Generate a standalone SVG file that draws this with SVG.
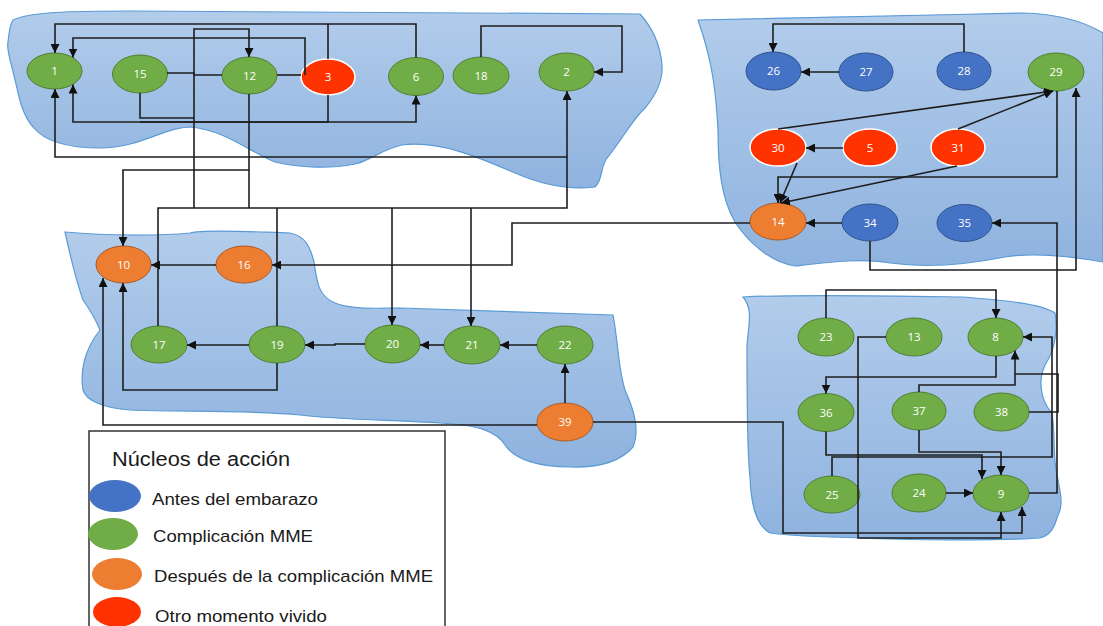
<svg xmlns="http://www.w3.org/2000/svg" width="1103" height="626" viewBox="0 0 1103 626">
  <defs>
    <linearGradient id="blobFill" x1="0" y1="0" x2="0" y2="1">
      <stop offset="0" stop-color="#b2cceb"/>
      <stop offset="1" stop-color="#8fb3df"/>
    </linearGradient>
    <marker id="arr" viewBox="0 0 10 10" refX="10" refY="5" markerWidth="9" markerHeight="9" markerUnits="userSpaceOnUse" orient="auto">
      <path d="M0,0 L10,5 L0,10 z" fill="#111"/>
    </marker>
    <style>
      .blob { fill: url(#blobFill); stroke: #5b9bd5; stroke-width: 1.2; }
      .n ellipse { stroke-width: 1; }
      .g ellipse { fill: #70ad47; stroke: #507e32; }
      .b ellipse { fill: #4472c4; stroke: #2f528f; }
      .o ellipse { fill: #ed7d31; stroke: #ae5a21; }
      .r ellipse { fill: #ff3300; stroke: #ffffff; stroke-width: 1.5; }
      .n text { fill: #ffffff; font-family: "Open Sans", "Liberation Sans", sans-serif; font-size: 11.5px; text-anchor: middle; }
      .c path { fill: none; stroke: #1e1e1e; stroke-width: 1.6; }
      .c .a { marker-end: url(#arr); }
      .lg text { font-family: "Liberation Sans", Arial, sans-serif; fill: #1a1a1a; }
    </style>
  </defs>

  <rect width="1103" height="626" fill="#ffffff"/>

  <!-- stage areas -->
  <g id="areas">
    <path class="blob" d="M13,20 C30,12 70,11 130,11 L640,14 C650,25 660,42 662,65 C663,82 656,95 645,108 C632,120 622,140 607,158 C600,168 603,180 595,187 C570,190 545,186 515,173 C480,158 440,140 402,145 C380,150 372,160 355,164 C330,169 300,168 275,162 C250,152 225,130 190,127 C165,127 140,148 100,148 C70,148 45,142 33,127 C20,112 18,90 15,80 C12,65 6,50 8,42 C9,32 10,24 13,20 Z"/>
    <path class="blob" d="M698,20 C760,18 900,16 1023,13 C1060,14 1085,22 1103,33 L1103,262 C1070,256 1035,252 1005,257 C965,265 925,268 890,263 C860,258 830,262 795,266 C770,262 748,242 735,222 C722,200 718,170 718,130 C716,90 712,60 698,20 Z"/>
    <path class="blob" d="M65,232 C110,236 160,236 190,233 C205,229 255,232 290,233 C305,236 310,246 314,262 C317,282 318,296 335,303 C352,310 380,308 400,308 L613,315 C618,340 618,368 625,390 C634,410 640,430 633,447 C620,462 600,468 570,467 C540,467 515,460 505,445 C497,432 480,425 440,423 C400,420 340,420 300,415 C250,410 180,412 130,410 C102,408 86,400 83,390 C80,372 84,350 100,330 C96,320 90,310 83,300 C76,280 70,255 65,232 Z"/>
    <path class="blob" d="M743,297 C800,294 900,296 963,297 C1000,300 1040,303 1055,313 C1058,330 1055,350 1045,365 C1038,380 1040,400 1052,413 C1055,430 1053,450 1056,470 C1060,490 1064,505 1058,515 C1055,525 1052,535 1040,538 C1000,541 900,540 863,538 C820,537 790,536 770,533 C756,525 751,505 750,477 C747,450 747,400 747,347 C748,325 754,310 743,297 Z"/>
  </g>

  <!-- nodes -->
  <g id="node-1" class="n g"><ellipse cx="54.5" cy="71" rx="27.5" ry="18"/><text x="54.5" y="75">1</text></g>
  <g id="node-15" class="n g"><ellipse cx="140" cy="74" rx="27.5" ry="19"/><text x="140" y="78">15</text></g>
  <g id="node-12" class="n g"><ellipse cx="249.5" cy="75.5" rx="27.5" ry="18.5"/><text x="249.5" y="79.5">12</text></g>
  <g id="node-3" class="n r"><ellipse cx="328" cy="77" rx="27" ry="18"/><text x="328" y="81">3</text></g>
  <g id="node-6" class="n g"><ellipse cx="416" cy="76.5" rx="27.5" ry="19"/><text x="416" y="80.5">6</text></g>
  <g id="node-18" class="n g"><ellipse cx="481" cy="75.5" rx="28" ry="18.5"/><text x="481" y="79.5">18</text></g>
  <g id="node-2" class="n g"><ellipse cx="566.5" cy="72" rx="27.5" ry="19"/><text x="566.5" y="76">2</text></g>

  <g id="node-26" class="n b"><ellipse cx="773.5" cy="71" rx="27.5" ry="19"/><text x="773.5" y="75">26</text></g>
  <g id="node-27" class="n b"><ellipse cx="866" cy="72" rx="27" ry="19"/><text x="866" y="76">27</text></g>
  <g id="node-28" class="n b"><ellipse cx="964" cy="71" rx="27" ry="19"/><text x="964" y="75">28</text></g>
  <g id="node-29" class="n g"><ellipse cx="1056" cy="72" rx="28" ry="19"/><text x="1056" y="76">29</text></g>
  <g id="node-30" class="n r"><ellipse cx="778" cy="147.5" rx="28" ry="18.5"/><text x="778" y="151.5">30</text></g>
  <g id="node-5" class="n r"><ellipse cx="870" cy="147.5" rx="27" ry="18.5"/><text x="870" y="151.5">5</text></g>
  <g id="node-31" class="n r"><ellipse cx="958" cy="147.5" rx="27" ry="18.5"/><text x="958" y="151.5">31</text></g>
  <g id="node-14" class="n o"><ellipse cx="778" cy="221.5" rx="28" ry="18.5"/><text x="778" y="225.5">14</text></g>
  <g id="node-34" class="n b"><ellipse cx="870" cy="222.5" rx="28" ry="18.5"/><text x="870" y="226.5">34</text></g>
  <g id="node-35" class="n b"><ellipse cx="964.5" cy="223" rx="27.5" ry="18.5"/><text x="964.5" y="227">35</text></g>

  <g id="node-10" class="n o"><ellipse cx="123.5" cy="264.5" rx="27.5" ry="18.5"/><text x="123.5" y="268.5">10</text></g>
  <g id="node-16" class="n o"><ellipse cx="244" cy="264.5" rx="28" ry="18.5"/><text x="244" y="268.5">16</text></g>
  <g id="node-17" class="n g"><ellipse cx="159" cy="344.5" rx="28" ry="18.5"/><text x="159" y="348.5">17</text></g>
  <g id="node-19" class="n g"><ellipse cx="277" cy="344.5" rx="28" ry="18.5"/><text x="277" y="348.5">19</text></g>
  <g id="node-20" class="n g"><ellipse cx="392.5" cy="344" rx="27.5" ry="19"/><text x="392.5" y="348">20</text></g>
  <g id="node-21" class="n g"><ellipse cx="472" cy="345" rx="28" ry="19"/><text x="472" y="349">21</text></g>
  <g id="node-22" class="n g"><ellipse cx="565" cy="345" rx="28" ry="19"/><text x="565" y="349">22</text></g>
  <g id="node-39" class="n o"><ellipse cx="565" cy="422" rx="28" ry="19"/><text x="565" y="426">39</text></g>

  <g id="node-23" class="n g"><ellipse cx="826" cy="337" rx="28" ry="19"/><text x="826" y="341">23</text></g>
  <g id="node-13" class="n g"><ellipse cx="914" cy="337" rx="28" ry="19"/><text x="914" y="341">13</text></g>
  <g id="node-8" class="n g"><ellipse cx="995.5" cy="337" rx="27.5" ry="19"/><text x="995.5" y="341">8</text></g>
  <g id="node-36" class="n g"><ellipse cx="826" cy="412.5" rx="28" ry="19"/><text x="826" y="416.5">36</text></g>
  <g id="node-37" class="n g"><ellipse cx="919" cy="411" rx="27" ry="19"/><text x="919" y="415">37</text></g>
  <g id="node-38" class="n g"><ellipse cx="1001.5" cy="412" rx="27.5" ry="19"/><text x="1001.5" y="416">38</text></g>
  <g id="node-25" class="n g"><ellipse cx="832" cy="494.5" rx="28" ry="18.5"/><text x="832" y="498.5">25</text></g>
  <g id="node-24" class="n g"><ellipse cx="919" cy="493" rx="27" ry="19"/><text x="919" y="497">24</text></g>
  <g id="node-9" class="n g"><ellipse cx="1001" cy="493.5" rx="28" ry="18.5"/><text x="1001" y="497.5">9</text></g>

  <!-- connectors -->
  <g id="connectors" class="c">
    <path class="a" d="M416,57.5 V24 H55 V53"/>
    <path d="M328,59 V24"/>
    <path class="a" d="M305,75 V38 H73 V57.5"/>
    <path d="M277,75 H301"/>
    <path d="M167,73 H194 V75 H222"/>
    <path d="M140,93 V118 H194"/>
    <path class="a" d="M328,95 V122 H73 V84.5"/>
    <path class="a" d="M140,122 H416 V95.5"/>
    <path class="a" d="M194,208 V29 H249 V57"/>
    <path d="M249,94 V208"/>
    <path class="a" d="M249,170 H123 V246"/>
    <path class="a" d="M158,326 V208 H567 V91"/>
    <path class="a" d="M392,208 V325"/>
    <path class="a" d="M471,208 V326"/>
    <path d="M277,208 V326"/>
    <path class="a" d="M567,157 H55 V89"/>
    <path class="a" d="M481,57 V26 H622 V72 H594"/>
    <path class="a" d="M750,223 H512 V265 H272"/>
    <path class="a" d="M216,265 H151"/>
    <path class="a" d="M249,345 H187"/>
    <path class="a" d="M277,363 V390 H123 V283"/>
    <path class="a" d="M365,344 H335 V345 H305"/>
    <path class="a" d="M444,345 H420"/>
    <path class="a" d="M537,345 H500"/>
    <path class="a" d="M565,403 V364"/>
    <path class="a" d="M537,425 H103 V278"/>
    <path class="a" d="M593,422 H783 V533 H1022 V507"/>
    <path class="a" d="M886,337 H858 V538 H1001 V512"/>
    <path class="a" d="M826,318 V290 H996 V318"/>

    <path class="a" d="M839,72 H801"/>
    <path class="a" d="M964,52 V24 H773 V52"/>
    <path class="a" d="M778,129 L1053,91"/>
    <path class="a" d="M958,129 L1053,91"/>
    <path class="a" d="M843,148 H806"/>
    <path class="a" d="M797,163 L780,203"/>
    <path class="a" d="M957,166 L781,203"/>
    <path class="a" d="M1057,91 V177 H778 V203"/>
    <path class="a" d="M842,223 H806"/>
    <path class="a" d="M870,241 V270 H1076 V88"/>
    <path class="a" d="M1029,493 H1057 V223 H992"/>

    <path class="a" d="M996,356 V377 H826 V393.5"/>
    <path class="a" d="M919,392 V385 H1015 V350.5"/>
    <path d="M1029,412 H1058 V374 H1015"/>
    <path class="a" d="M832,476 V457 H1052 V337 H1023"/>
    <path class="a" d="M826,431.5 V455 H982 V479"/>
    <path class="a" d="M919,430 V452 H1001 V475"/>
    <path class="a" d="M946,493 H973"/>
  </g>

  <!-- legend -->
  <g id="legend" class="lg">
    <rect x="89" y="431" width="356" height="220" fill="#ffffff" stroke="#333333" stroke-width="1.5"/>
    <text x="112" y="466" font-size="20" textLength="178" lengthAdjust="spacingAndGlyphs">Núcleos de acción</text>
    <ellipse cx="115" cy="496" rx="26" ry="16" fill="#4472c4"/>
    <text x="152" y="505" font-size="17" textLength="166" lengthAdjust="spacingAndGlyphs">Antes del embarazo</text>
    <ellipse cx="113" cy="534" rx="25" ry="16" fill="#70ad47"/>
    <text x="153" y="542" font-size="17" textLength="160" lengthAdjust="spacingAndGlyphs">Complicación MME</text>
    <ellipse cx="117" cy="574" rx="25" ry="16" fill="#ed7d31"/>
    <text x="154" y="582" font-size="17" textLength="279" lengthAdjust="spacingAndGlyphs">Después de la complicación MME</text>
    <ellipse cx="117" cy="612" rx="24" ry="15" fill="#ff3300"/>
    <text x="155" y="622" font-size="17" textLength="172" lengthAdjust="spacingAndGlyphs">Otro momento vivido</text>
  </g>
</svg>
